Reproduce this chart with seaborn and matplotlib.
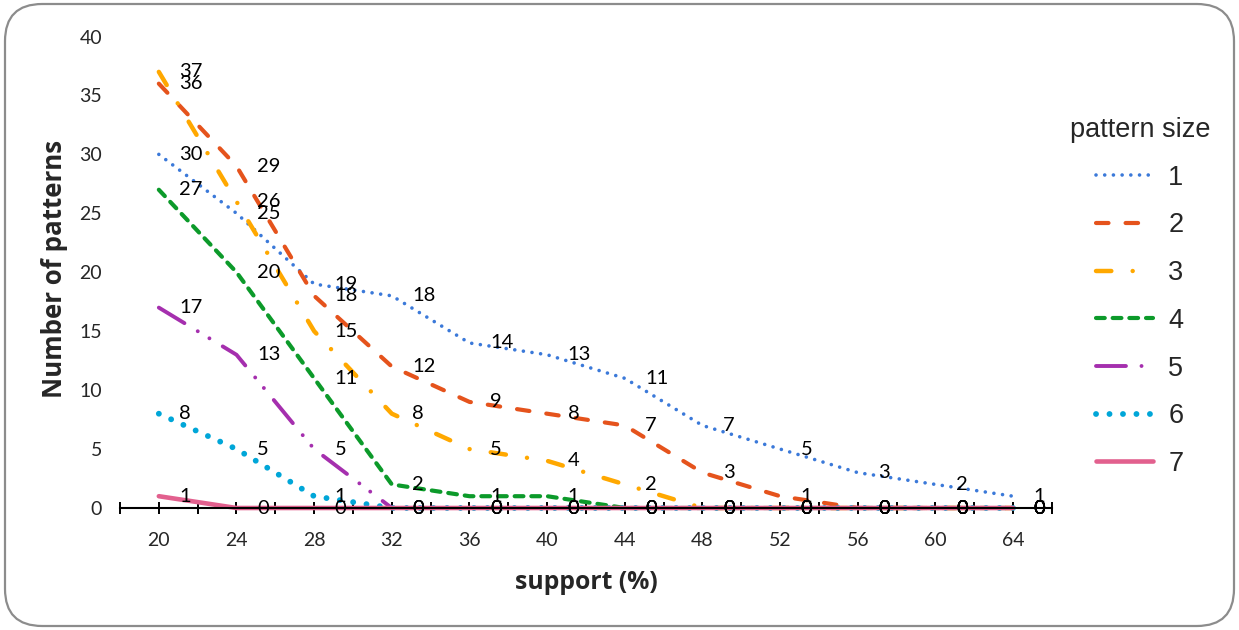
import numpy as np
import pandas as pd
import seaborn as sns
import matplotlib
matplotlib.use("Agg")
import matplotlib.pyplot as plt
from matplotlib.patches import FancyBboxPatch

support = [20, 24, 28, 32, 36, 40, 44, 48, 52, 56, 60, 64]
size1 = [30, 25, 19, 18, 14, 13, 11, 7, 5, 3, 2, 1]
size2 = [36, 29, 18, 12, 9, 8, 7, 3, 1, 0, 0, 0]
size3 = [37, 26, 15, 8, 5, 4, 2, 0, 0, 0, 0, 0]
size4 = [27, 20, 11, 2, 1, 1, 0, 0, 0, 0, 0, 0]
size5 = [17, 13, 5, 0, 0, 0, 0, 0, 0, 0, 0, 0]
size6 = [8, 5, 1, 0, 0, 0, 0, 0, 0, 0, 0, 0]
size7 = [1, 0, 0, 0, 0, 0, 0, 0, 0, 0, 0, 0]
series_names = ["1", "2", "3", "4", "5", "6", "7"]
series_values = [size1, size2, size3, size4, size5, size6, size7]

colors = ["#3b79d9", "#e5531c", "#ffa800", "#0c9a2a", "#a52fae", "#00a6d8", "#e2608e"]
widths = [2.6, 3.0, 3.2, 3.0, 2.8, 4.2, 3.3]
styles = [(0, (0.01, 2.4)), (0, (3.0, 4.1)), (0, (3.45, 4.8, 0.01, 4.8)),
          (0, (2.1, 1.9)), (0, (7.7, 4.0, 0.01, 3.5, 0.01, 4.0)),
          (0, (0.01, 2.3)), "-"]

sns.set_theme(style="white")
plt.rcParams["font.family"] = ["Lato", "DejaVu Sans"]

fig = plt.figure(figsize=(12.39, 6.30), dpi=100)
ax = fig.add_axes([120 / 1239, 1 - 508 / 630, (1052 - 120) / 1239, (508 - 36.5) / 630])

for name, vals, c, lw, ls in zip(series_names, series_values, colors, widths, styles):
    df = pd.DataFrame({"support": support, "count": vals})
    sns.lineplot(data=df, x="support", y="count", ax=ax, color=c, linewidth=lw,
                 linestyle=ls, dash_capstyle="round", solid_capstyle="round",
                 label=name, clip_on=False)
    for xv, yv in zip(support, vals):
        ax.text(xv + 1.05, yv, str(yv), ha="left", va="center", fontsize=14.5,
                color="black", clip_on=False)

ax.set_xlim(18, 66)
ax.set_ylim(0, 40)
ax.set_xticks(support)
ax.set_xticks(np.arange(18, 67, 4), minor=True)
ax.set_yticks(np.arange(0, 41, 5))
ax.tick_params(axis="x", which="both", direction="inout", length=9, width=1.4,
               color="black", bottom=True, pad=13, labelsize=14)
ax.tick_params(axis="y", which="both", length=0, pad=13, labelsize=14)
for s in ["left", "right", "top"]:
    ax.spines[s].set_visible(False)
ax.spines["bottom"].set_color("black")
ax.spines["bottom"].set_linewidth(1.5)

ax.set_xlabel("support (%)", fontdict={"family": "Open Sans", "size": 17.8, "weight": "bold"})
ax.set_ylabel("Number of patterns", fontdict={"family": "Open Sans", "size": 18.6, "weight": "bold"})
ax.xaxis.set_label_coords(0.5, -0.132)
ax.xaxis.label.set_va("top")
ax.yaxis.set_label_coords(-0.056, 0.508)

leg = ax.legend(title="pattern size", loc="center",
                bbox_to_anchor=(1140 / 1239, 1 - 297 / 630),
                bbox_transform=fig.transFigure, frameon=False,
                prop={"family": "Liberation Sans", "size": 19.5},
                handlelength=2.1, handletextpad=0.55, labelspacing=0.8)
leg.get_title().set_fontsize(19.5)
leg.get_title().set_family("Liberation Sans")

border = FancyBboxPatch((5 / 1239, 4 / 630), 1229 / 1239, 622 / 630,
                        boxstyle="round,pad=0,rounding_size=0.03",
                        transform=fig.transFigure, fill=False,
                        edgecolor="#8c8c8c", linewidth=1.6, mutation_aspect=1239 / 630)
fig.patches.append(border)

fig.savefig("out.png", dpi=100)
